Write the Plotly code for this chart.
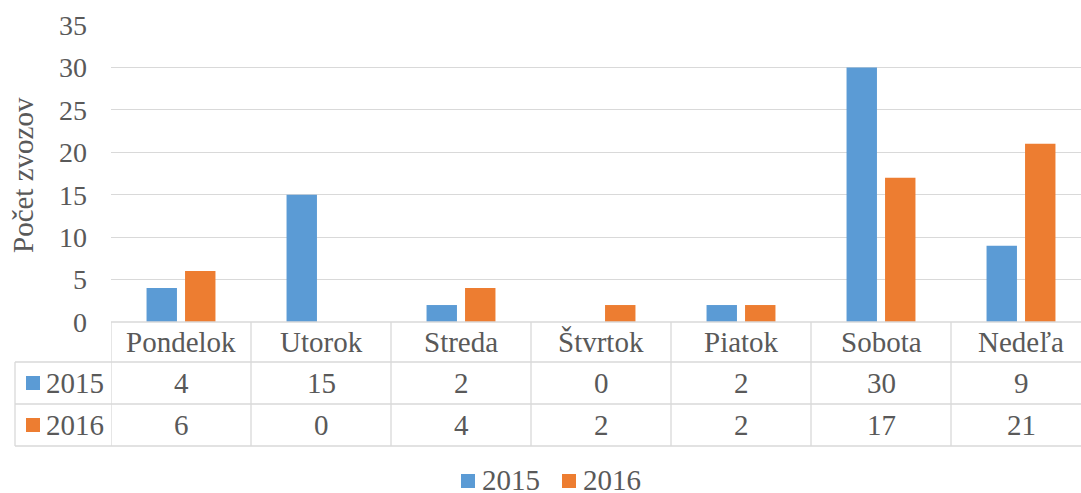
import plotly.graph_objects as go

categories = ["Pondelok", "Utorok", "Streda", "Štvrtok", "Piatok", "Sobota", "Nedeľa"]
series_names = ["2015", "2016"]
values_2015 = [4, 15, 2, 0, 2, 30, 9]
values_2016 = [6, 0, 4, 2, 2, 17, 21]
y_ticks = [0, 5, 10, 15, 20, 25, 30, 35]
y_title = "Počet zvozov"

colors = ["#5B9BD5", "#ED7D31"]
series_values = [values_2015, values_2016]

W, H = 1081, 493
FONT = "Liberation Serif"
TXT = "#595959"
GRID = "#D9D9D9"
FS = 29
FS_TICK = 28


def py(y):
    return 1 - y / H


def px(x):
    return x / W


def tfont(size=FS):
    return dict(family=FONT, size=size, color=TXT)


plot_left = 111
col_w = 140
n_vis = (W - plot_left) / col_w

fig = go.Figure()
for name, vals, c in zip(series_names, series_values, colors):
    fig.add_trace(go.Bar(x=categories, y=vals, name=name, marker=dict(color=c, line=dict(width=0)),
                         showlegend=False, hoverinfo="skip"))

fig.update_layout(
    width=W, height=H,
    margin=dict(l=0, r=0, t=0, b=0, pad=0, autoexpand=False),
    paper_bgcolor="white", plot_bgcolor="white",
    bargap=0.45, bargroupgap=0.21,
    showlegend=False,
    xaxis=dict(domain=[px(plot_left), 1], range=[-0.5, -0.5 + n_vis], showticklabels=False,
               showgrid=False, zeroline=False, showline=False, type="category", automargin=False),
    yaxis=dict(domain=[py(322), py(25)], range=[0, 35], tickvals=y_ticks,
               showgrid=True, gridcolor=GRID, gridwidth=1.3, zeroline=False, showline=False,
               ticks="", ticklabelstandoff=23, automargin=False,
               tickfont=tfont(FS_TICK)),
)

shapes = []
lw = 1.3
# table horizontal lines
shapes.append(dict(type="line", xref="paper", yref="paper", x0=px(plot_left), x1=1, y0=py(322), y1=py(322),
                   line=dict(color=GRID, width=lw)))
for yy in [362, 404, 446]:
    shapes.append(dict(type="line", xref="paper", yref="paper", x0=px(15), x1=1, y0=py(yy), y1=py(yy),
                       line=dict(color=GRID, width=lw)))
# vertical lines
for i in range(len(categories)):
    shapes.append(dict(type="line", xref="x", yref="paper", x0=i - 0.5, x1=i - 0.5, y0=py(322), y1=py(446),
                       line=dict(color=GRID, width=lw)))
shapes.append(dict(type="line", xref="paper", yref="paper", x0=px(15), x1=px(15), y0=py(362), y1=py(446),
                   line=dict(color=GRID, width=lw)))

annotations = []
# category header
for cat in categories:
    annotations.append(dict(x=cat, y=py(342), xref="x", yref="paper", text=cat, showarrow=False,
                            xanchor="center", yanchor="middle", font=tfont()))
# table rows
row_y = [383, 425]
for name, vals, c, ry in zip(series_names, series_values, colors, row_y):
    shapes.append(dict(type="rect", xref="paper", yref="paper", x0=px(26), x1=px(40),
                       y0=py(ry + 7), y1=py(ry - 7), fillcolor=c, line=dict(width=0)))
    annotations.append(dict(x=px(44), y=py(ry), xref="paper", yref="paper", text=name, showarrow=False,
                            xanchor="left", yanchor="middle", font=tfont()))
    for cat, v in zip(categories, vals):
        annotations.append(dict(x=cat, y=py(ry), xref="x", yref="paper", text=str(v), showarrow=False,
                                xanchor="center", yanchor="middle", font=tfont()))

# legend
leg_x = [461, 562]
for name, c, lx in zip(series_names, colors, leg_x):
    shapes.append(dict(type="rect", xref="paper", yref="paper", x0=px(lx), x1=px(lx + 14),
                       y0=py(488), y1=py(474), fillcolor=c, line=dict(width=0)))
    annotations.append(dict(x=px(lx + 19), y=py(480), xref="paper", yref="paper", text=name, showarrow=False,
                            xanchor="left", yanchor="middle", font=tfont()))

# y axis title
annotations.append(dict(x=px(23), y=py(175), xref="paper", yref="paper", text=y_title, showarrow=False,
                        textangle=-90, xanchor="center", yanchor="middle", font=tfont()))

fig.update_layout(shapes=shapes, annotations=annotations)
fig.write_html("out.html", config={"displayModeBar": False},
               post_script="document.body.style.margin='0';")
